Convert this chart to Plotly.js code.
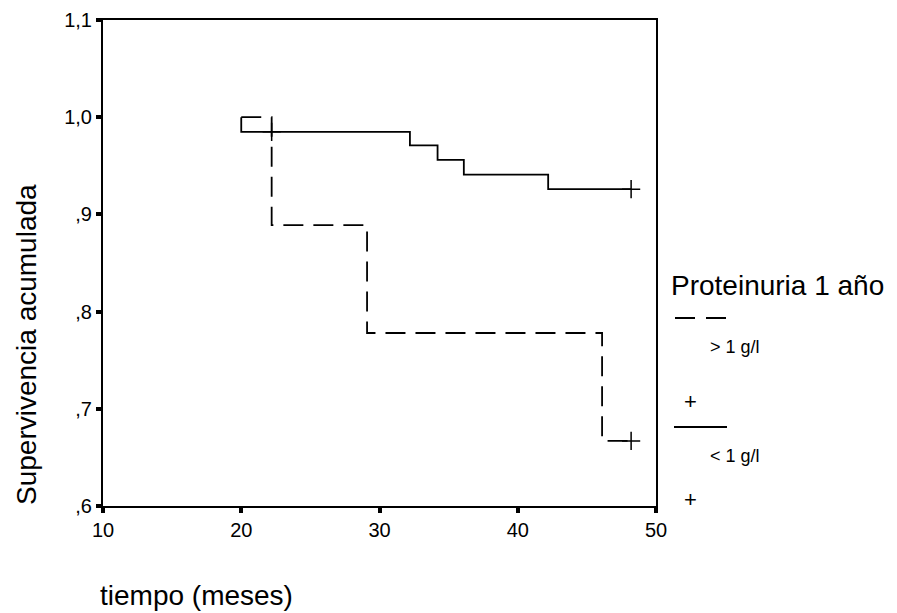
<!DOCTYPE html>
<html>
<head>
<meta charset="utf-8">
<script src="https://cdn.plot.ly/plotly-3.0.1.min.js"></script>
<style>
html,body{margin:0;padding:0;background:#fff;}
#chart{width:897px;height:613px;}
</style>
</head>
<body>
<div id="chart"></div>
<script>
// ---- data ----
var highTime = [20, 22.2, 29.1, 46.1, 48.2];
var highSurv = [1.0, 0.889, 0.778, 0.667, 0.667];
var highCensTime = [48.2];
var highCensSurv = [0.667];

var lowTime = [20, 20, 32.2, 34.2, 36.1, 42.2, 48.2];
var lowSurv = [1.0, 0.985, 0.971, 0.956, 0.941, 0.926, 0.926];
var lowCensTime = [22.2, 48.2];
var lowCensSurv = [0.985, 0.926];

var yTickVals = [1.1, 1.0, 0.9, 0.8, 0.7, 0.6];
var yTickText = ["1,1", "1,0", ",9", ",8", ",7", ",6"];
var xTickVals = [10, 20, 30, 40, 50];
var xTickText = ["10", "20", "30", "40", "50"];

var legendTitle = "Proteinuria 1 año";
var legendLabels = ["> 1 g/l", "< 1 g/l"];
var yTitle = "Supervivencia acumulada";
var xTitle = "tiempo (meses)";

// ---- layout geometry (pixels) ----
var W = 897, H = 613;
var L = 103, R = 656, T = 20, B = 506;
function px(x){ return (x - L) / (R - L); }
function py(y){ return (B - y) / (B - T); }

var font = "Liberation Sans, Arial, sans-serif";

var traces = [
  {x: highTime, y: highSurv, mode: 'lines', line: {shape: 'hv', color: '#000', width: 1.8, dash: '20px,10px'}, hoverinfo: 'skip', showlegend: false},
  {x: lowTime, y: lowSurv, mode: 'lines', line: {shape: 'hv', color: '#000', width: 1.8}, hoverinfo: 'skip', showlegend: false},
  {x: highCensTime, y: highCensSurv, mode: 'markers', marker: {symbol: 'cross-thin', size: 13, line: {color: '#000', width: 1.5}}, hoverinfo: 'skip', showlegend: false},
  {x: lowCensTime, y: lowCensSurv, mode: 'markers', marker: {symbol: 'cross-thin', size: 13, line: {color: '#000', width: 1.5}}, hoverinfo: 'skip', showlegend: false}
];

var layout = {
  width: W, height: H,
  margin: {l: L, r: W - R, t: T, b: H - B, pad: 0},
  paper_bgcolor: '#fff', plot_bgcolor: '#fff',
  showlegend: false,
  font: {family: font, color: '#000'},
  xaxis: {
    range: [10, 50], tickvals: xTickVals, ticktext: xTickText,
    showgrid: false, zeroline: false, showline: true, mirror: true,
    linecolor: '#000', linewidth: 2, ticks: 'outside', ticklen: 5, tickwidth: 4, tickcolor: '#000',
    tickfont: {family: font, size: 20, color: '#000'}, fixedrange: true
  },
  yaxis: {
    range: [0.6, 1.1], tickvals: yTickVals, ticktext: yTickText,
    showgrid: false, zeroline: false, showline: true, mirror: true,
    linecolor: '#000', linewidth: 2, ticks: 'outside', ticklen: 5, tickwidth: 4, tickcolor: '#000',
    tickfont: {family: font, size: 20, color: '#000'}, fixedrange: true
  },
  shapes: [
    {type: 'line', xref: 'paper', yref: 'paper', x0: px(675), x1: px(727), y0: py(318), y1: py(318), line: {color: '#000', width: 2, dash: '20px,11px'}},
    {type: 'line', xref: 'paper', yref: 'paper', x0: px(674), x1: px(727), y0: py(427), y1: py(427), line: {color: '#000', width: 2}}
  ],
  annotations: [
    {xref: 'paper', yref: 'paper', x: px(26), y: py(345), text: yTitle, textangle: -90, showarrow: false, xanchor: 'center', yanchor: 'middle', font: {family: font, size: 28, color: '#000'}},
    {xref: 'paper', yref: 'paper', x: px(98), y: py(595), text: xTitle, showarrow: false, xanchor: 'left', yanchor: 'middle', font: {family: font, size: 28, color: '#000'}},
    {xref: 'paper', yref: 'paper', x: px(669), y: py(285), text: legendTitle, showarrow: false, xanchor: 'left', yanchor: 'middle', font: {family: font, size: 28, color: '#000'}},
    {xref: 'paper', yref: 'paper', x: px(708), y: py(347), text: legendLabels[0], showarrow: false, xanchor: 'left', yanchor: 'middle', font: {family: font, size: 18, color: '#000'}},
    {xref: 'paper', yref: 'paper', x: px(708), y: py(456), text: legendLabels[1], showarrow: false, xanchor: 'left', yanchor: 'middle', font: {family: font, size: 18, color: '#000'}},
    {xref: 'paper', yref: 'paper', x: px(690), y: py(401), text: '+', showarrow: false, xanchor: 'center', yanchor: 'middle', font: {family: font, size: 22, color: '#000'}},
    {xref: 'paper', yref: 'paper', x: px(690), y: py(499), text: '+', showarrow: false, xanchor: 'center', yanchor: 'middle', font: {family: font, size: 22, color: '#000'}}
  ]
};

Plotly.newPlot('chart', traces, layout, {displayModeBar: false, staticPlot: true});
</script>
</body>
</html>
